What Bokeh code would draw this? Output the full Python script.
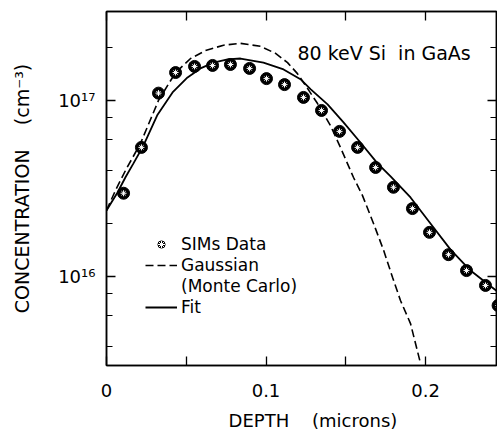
from bokeh.plotting import figure
from bokeh.models import (Range1d, LinearAxis, LogAxis, FixedTicker, LogTicker,
                          CustomJSTickFormatter, Legend, LegendItem, Label)
from bokeh.embed import file_html
from bokeh.resources import INLINE

# ---- data ----
sims_depth = [0.0107, 0.0219, 0.0326, 0.0433, 0.0552, 0.0665, 0.0777, 0.0897,
              0.1003, 0.1116, 0.1235, 0.1348, 0.1461, 0.1574, 0.1687, 0.1799,
              0.1918, 0.2025, 0.2144, 0.2257, 0.2376, 0.2455]
sims_conc = [2.97e16, 5.41e16, 1.10e17, 1.44e17, 1.56e17, 1.58e17, 1.60e17, 1.52e17,
             1.33e17, 1.23e17, 1.04e17, 8.77e16, 6.67e16, 5.41e16, 4.16e16, 3.21e16,
             2.43e16, 1.78e16, 1.33e16, 1.08e16, 8.89e15, 6.84e15]

gauss_depth = [0.0, 0.0056, 0.0119, 0.0213, 0.0326, 0.0433, 0.0527, 0.0621, 0.0734,
               0.0840, 0.0966, 0.1060, 0.1135, 0.1197, 0.1260, 0.1323, 0.1404,
               0.1467, 0.1548, 0.1605, 0.1674, 0.1737, 0.1793, 0.1843, 0.1906, 0.1969]
gauss_conc = [2.37e16, 3.08e16, 4.00e16, 5.70e16, 1.00e17, 1.44e17, 1.73e17, 1.92e17, 2.06e17,
              2.11e17, 2.03e17, 1.85e17, 1.64e17, 1.42e17, 1.17e17, 9.6e16, 7.2e16,
              5.4e16, 3.66e16, 2.88e16, 2.0e16, 1.41e16, 9.9e15, 7.3e15, 5.4e15, 3.2e15]

fit_depth = [0.0, 0.0069, 0.0119, 0.0169, 0.0232, 0.0320, 0.0414, 0.0508, 0.0589,
             0.0671, 0.0759, 0.0840, 0.0984, 0.1110, 0.1216, 0.1279, 0.1386, 0.1486,
             0.1592, 0.1699, 0.1781, 0.1906, 0.2031, 0.2157, 0.2282, 0.2408, 0.2451]
fit_conc = [2.37e16, 3.0e16, 3.66e16, 4.39e16, 5.55e16, 8.3e16, 1.11e17, 1.35e17, 1.52e17,
            1.64e17, 1.71e17, 1.73e17, 1.64e17, 1.50e17, 1.32e17, 1.16e17, 9.5e16, 7.5e16,
            5.77e16, 4.39e16, 3.70e16, 2.81e16, 2.00e16, 1.42e16, 1.08e16, 8.8e15, 8.2e15]

x_ticks = [0, 0.05, 0.1, 0.15, 0.2]
x_labelled = [0, 0.1, 0.2]

FONT = "DejaVu Sans"

p = figure(width=497, height=434,
           x_range=Range1d(0, 0.2445), y_range=Range1d(3.12e15, 3.2e17),
           y_axis_type="log", output_backend="svg", toolbar_location=None,
           min_border_left=106, min_border_right=1, min_border_top=11,
           min_border_bottom=69)
p.background_fill_color = "white"
p.border_fill_color = "white"
p.outline_line_color = "black"
p.outline_line_width = 1.5
p.grid.visible = False

blank = CustomJSTickFormatter(code="return '';")
xfmt = CustomJSTickFormatter(args=dict(lab=x_labelled), code="""
for (const v of lab) { if (Math.abs(tick - v) < 1e-9) { return v == 0 ? '0' : v.toFixed(1); } }
return '';
""")
yfmt = CustomJSTickFormatter(code="""
const sup = {'0':'\u2070','1':'\u00b9','2':'\u00b2','3':'\u00b3','4':'\u2074','5':'\u2075',
             '6':'\u2076','7':'\u2077','8':'\u2078','9':'\u2079','-':'\u207b'};
const e = Math.round(Math.log10(tick));
return '10' + String(e).split('').map(c => sup[c]).join('');
""")

def style(ax):
    ax.axis_line_color = "black"
    ax.axis_line_width = 1.5
    ax.major_tick_line_color = "black"
    ax.minor_tick_line_color = "black"
    ax.major_tick_line_width = 1.3
    ax.minor_tick_line_width = 1.2
    ax.major_tick_in = 9
    ax.major_tick_out = 0
    ax.minor_tick_in = 6
    ax.minor_tick_out = 0
    ax.major_label_text_font = FONT
    ax.major_label_text_color = "black"
    ax.axis_label_text_font = FONT
    ax.axis_label_text_font_style = "normal"
    ax.axis_label_text_color = "black"

xax = p.xaxis[0]
xax.ticker = FixedTicker(ticks=x_ticks)
xax.formatter = xfmt
style(xax)
xax.major_label_text_font_size = "18px"
xax.major_label_standoff = 18
xax.axis_label = "\u00a0\u00a0\u00a0\u00a0DEPTH\u00a0\u00a0\u00a0\u00a0(microns)"
xax.axis_label_text_font_size = "18px"
xax.axis_label_standoff = 10

yax = p.yaxis[0]
yax.ticker = LogTicker()
yax.formatter = yfmt
style(yax)
yax.major_label_text_font_size = "18px"
yax.major_label_standoff = 11
yax.axis_label = "CONCENTRATION\u00a0\u00a0\u00a0\u00a0(cm\u207b\u00b3)"
yax.axis_label_text_font_size = "19px"
yax.axis_label_standoff = 22

top = LinearAxis(ticker=FixedTicker(ticks=x_ticks), formatter=blank)
style(top)
top.major_label_standoff = 0
p.add_layout(top, "above")

right = LogAxis(ticker=LogTicker(), formatter=blank)
style(right)
right.major_label_standoff = 0
p.add_layout(right, "right")

g = p.line(gauss_depth, gauss_conc, line_color="black", line_dash="8 4", line_width=1.6)
f = p.line(fit_depth, fit_conc, line_color="black", line_width=1.8)
s1 = p.scatter(sims_depth, sims_conc, size=12, marker="circle",
               fill_color="black", line_color="black")
s2 = p.scatter(sims_depth, sims_conc, size=6, marker="asterisk",
               line_color="white", line_width=1.0)

legend = Legend(items=[
    LegendItem(label="SIMs Data", renderers=[s1, s2]),
    LegendItem(label="Gaussian", renderers=[g]),
    LegendItem(label="(Monte Carlo)", renderers=[]),
    LegendItem(label="Fit", renderers=[f]),
], location=(34, 43), glyph_width=32, glyph_height=18, label_height=18,
   spacing=1, padding=5, margin=0, label_standoff=4,
   label_text_font=FONT, label_text_font_size="17px", label_text_color="black",
   background_fill_alpha=0, border_line_alpha=0)
p.add_layout(legend)

p.add_layout(Label(x=0.1197, y=1.85e17, text="80 keV Si\u00a0 in GaAs",
                   text_font=FONT, text_font_size="19px", text_color="black",
                   text_baseline="alphabetic"))

open("out.html", "w").write(file_html(p, INLINE))
